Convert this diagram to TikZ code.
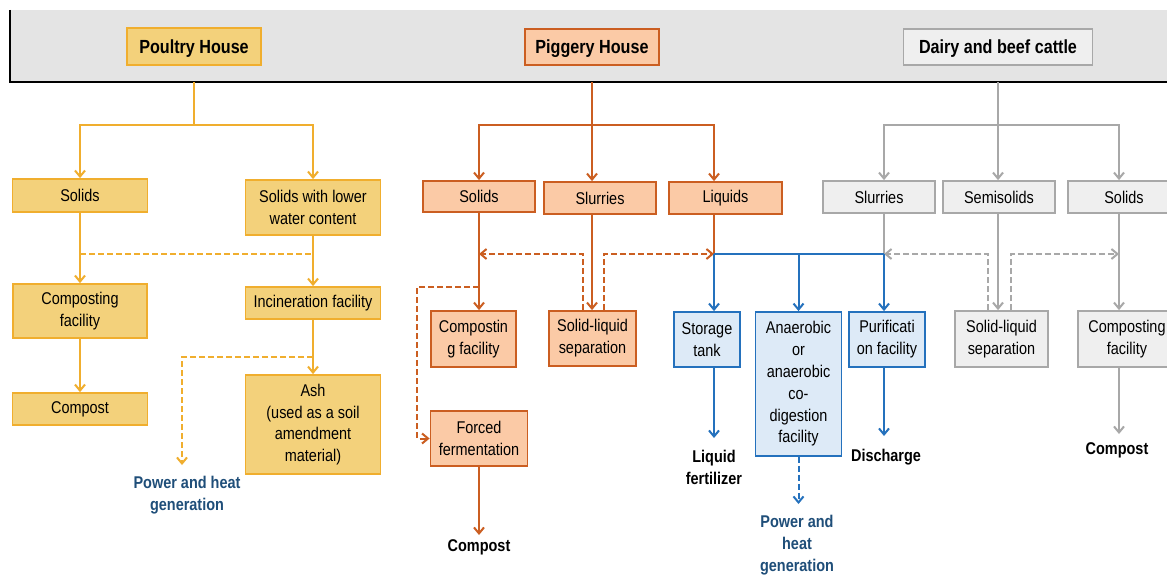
\documentclass[tikz,border=0pt]{standalone}
\usepackage{fontspec}
\setmainfont{Liberation Sans}[FakeStretch=0.85]
\usetikzlibrary{arrows.meta,calc}
\definecolor{pfill}{HTML}{F3D17B}
\definecolor{pline}{HTML}{F0AE2E}
\definecolor{gfill}{HTML}{FBCAA6}
\definecolor{gline}{HTML}{CB5E21}
\definecolor{dfill}{HTML}{EFEFEF}
\definecolor{dline}{HTML}{A8A8A8}
\definecolor{bfill}{HTML}{DDEAF7}
\definecolor{bline}{HTML}{2471BD}
\definecolor{navy}{HTML}{1F4E79}
\definecolor{bandfill}{HTML}{E4E4E4}
\begin{document}
\begin{tikzpicture}[x=1pt,y=-1pt,
  box/.style={rectangle, draw, line width=1.8pt, inner sep=0pt, align=center,
    font=\fontsize{17}{21.8}\selectfont},
  hbox/.style={box, font=\fontsize{19}{22}\selectfont\bfseries, text depth=0pt},
  wh/.style 2 args={minimum width=#1, minimum height=#2},
  pbox/.style={fill=pfill, draw=pline},
  gbox/.style={fill=gfill, draw=gline},
  dbox/.style={fill=dfill, draw=dline},
  bbox/.style={fill=bfill, draw=bline},
  lbl/.style={inner sep=0pt, anchor=north, align=center,
    font=\fontsize{17}{21.8}\selectfont\bfseries},
  link/.style={line width=2pt},
  arr/.style={-{Straight Barb[length=6pt,width=10pt]}},
  dsh/.style={dash pattern=on 6pt off 3pt},
  pl/.style={link, draw=pline},
  gl/.style={link, draw=gline},
  dl/.style={link, draw=dline},
  bl/.style={link, draw=bline}
]
\clip (0,0) rectangle (1167,575);
\fill[white] (0,0) rectangle (1167,575);
% header band
\node[fill=bandfill, minimum width=1170, minimum height=72, inner sep=0pt, anchor=north west] (band) at (10,10) {};
\draw[line width=2pt] (band.north west) -- (band.south west) -- (band.south east);

% ---------- Poultry ----------
\node[box, hbox, pbox, wh={134}{37}] (ph) at (194,46.5) {Poultry House};
\node[box, pbox, wh={135}{33}] (ps) at (80,195.5) {Solids};
\node[box, pbox, wh={135}{55}] (psw) at (313,207.5) {Solids with lower\\water content};
\node[box, pbox, wh={134}{54}] (pcf) at (80,311) {Composting\\facility};
\node[box, pbox, wh={135}{32}] (pinc) at (313,303) {Incineration facility};
\node[box, pbox, wh={135}{32}] (pcomp) at (80,409) {Compost};
\node[box, pbox, wh={135}{99}] (pash) at (313,424.5) {Ash\\(used as a soil\\amendment\\material)};
\node[lbl, text=navy] (ppow) at (187,476) {Power and heat\\generation};

\coordinate (pj) at (194,125);
\draw[pl] (ph |- band.south) -- (pj);
\draw[pl,arr] (pj) -| (ps.north);
\draw[pl,arr] (pj) -| (psw.north);
\draw[pl,arr] (ps.south) -- (pcf.north);
\draw[pl,dsh] (ps.south |- 0,254) -- (psw.south |- 0,254);
\draw[pl,arr] (psw.south) -- (pinc.north);
\draw[pl,arr] (pcf.south) -- (pcomp.north);
\draw[pl,arr] (pinc.south) -- (pash.north);
\coordinate (pd) at (313,357);
\draw[pl,dsh,arr,shorten >=11pt] (pd) -| ([xshift=-5pt]ppow.north);

% ---------- Piggery ----------
\node[box, hbox, gbox, wh={134}{36}] (gh) at (592,47) {Piggery House};
\node[box, gbox, wh={112}{31}] (gs) at (479,196.5) {Solids};
\node[box, gbox, wh={112}{32}] (gsl) at (600,198) {Slurries};
\node[box, gbox, wh={113}{32}] (gliq) at (725.5,198) {Liquids};
\node[box, gbox, wh={85}{56}] (gcf) at (473.5,339) {Compostin\\g facility};
\node[box, gbox, wh={87}{55}] (gsep) at (592.5,338.5) {Solid-liquid\\separation};
\node[box, gbox, wh={97}{55}] (gff) at (479,438.5) {Forced\\fermentation};
\node[lbl] (gcomp) at (479,539) {Compost};

\coordinate (gj) at (592,125);
\coordinate (gxl) at (714,125);
\coordinate (bj) at (714,254);
\draw[gl] (gh |- band.south) -- (gj);
\draw[gl,arr] (gj) -| (gs.north);
\draw[gl,arr] (gj) -- (gj |- gsl.north);
\draw[gl,arr] (gj) -- (gxl) -- (gxl |- gliq.north);
\draw[gl,arr] (gs.south) -- (gs.south |- gcf.north);
\draw[gl,arr] (gj |- gsl.south) -- (gj |- gsep.north);
\draw[gl] (gxl |- gliq.south) -- (bj);
\draw[gl,dsh,arr] ([xshift=-10pt]gsep.north) |- (gs.south |- bj);
\draw[gl,dsh,arr] ([xshift=11.5pt]gsep.north) |- (bj);
\draw[gl,dsh,arr] (gs.south |- 0,287) -- (417,287) |- (gff.west);
\draw[gl,arr,shorten >=4pt] (gff.south) -- (gcomp.north);

% ---------- Dairy ----------
\node[box, hbox, dbox, wh={189}{36}] (dh) at (998,47) {Dairy and beef cattle};
\node[box, dbox, wh={112}{32}] (dsl) at (879,197) {Slurries};
\node[box, dbox, wh={112}{32}] (dse) at (999,197) {Semisolids};
\node[box, dbox, wh={112}{32}] (dso) at (1124,197) {Solids};
\node[box, dbox, wh={93}{56}] (dsep) at (1001.5,339) {Solid-liquid\\separation};
\node[box, dbox, wh={98}{56}] (dcf) at (1127,339) {Composting\\facility};
\node[lbl] (dcomp) at (1117,442) {Compost};

\coordinate (dj) at (998,125);
\coordinate (dxs) at (884,125);
\coordinate (dxo) at (1119,125);
\draw[dl] (dh |- band.south) -- (dj);
\draw[dl,arr] (dj) -- (dxs) -- (dxs |- dsl.north);
\draw[dl,arr] (dj) -- (dj |- dse.north);
\draw[dl,arr] (dj) -- (dxo) -- (dxo |- dso.north);
\draw[dl] (dxs |- dsl.south) -- (dxs |- bj);
\draw[dl,arr] (dj |- dse.south) -- (dj |- dsep.north);
\draw[dl,arr] (dxo |- dso.south) -- (dxo |- dcf.north);
\draw[dl,arr,shorten >=8pt] (dxo |- dcf.south) -- (dxo |- dcomp.north);
\draw[dl,dsh,arr] ([xshift=-13.5pt]dsep.north) |- (dxs |- bj);
\draw[dl,dsh,arr] ([xshift=9.5pt]dsep.north) |- (dxo |- bj);

% ---------- Blue (liquid treatment) ----------
\node[box, bbox, wh={66}{55}] (bst) at (707,339.5) {Storage\\tank};
\node[box, bbox, wh={86}{144}] (ban) at (798.5,384) {Anaerobic\\or\\anaerobic\\co-\\digestion\\facility};
\node[box, bbox, wh={76}{55}] (bpu) at (887,339.5) {Purificati\\on facility};
\node[lbl] (blf) at (714,450) {Liquid\\fertilizer};
\node[lbl, text=navy] (bpow) at (797,515) {Power and\\heat\\generation};
\node[lbl] (bdis) at (886,449) {Discharge};

\draw[bl] (bj) -- (dxs |- bj);
\draw[bl,arr] (bj) -- (bj |- bst.north);
\draw[bl,arr] (ban |- bj) -- (ban.north);
\draw[bl,arr] (dxs |- bj) -- (dxs |- bpu.north);
\draw[bl,arr,shorten >=12pt] (bj |- bst.south) -- (bj |- blf.north);
\draw[bl,dsh,arr,shorten >=11pt] (ban.south) -- (ban.south |- bpow.north);
\draw[bl,arr,shorten >=13pt] (dxs |- bpu.south) -- (dxs |- bdis.north);
\end{tikzpicture}
\end{document}
